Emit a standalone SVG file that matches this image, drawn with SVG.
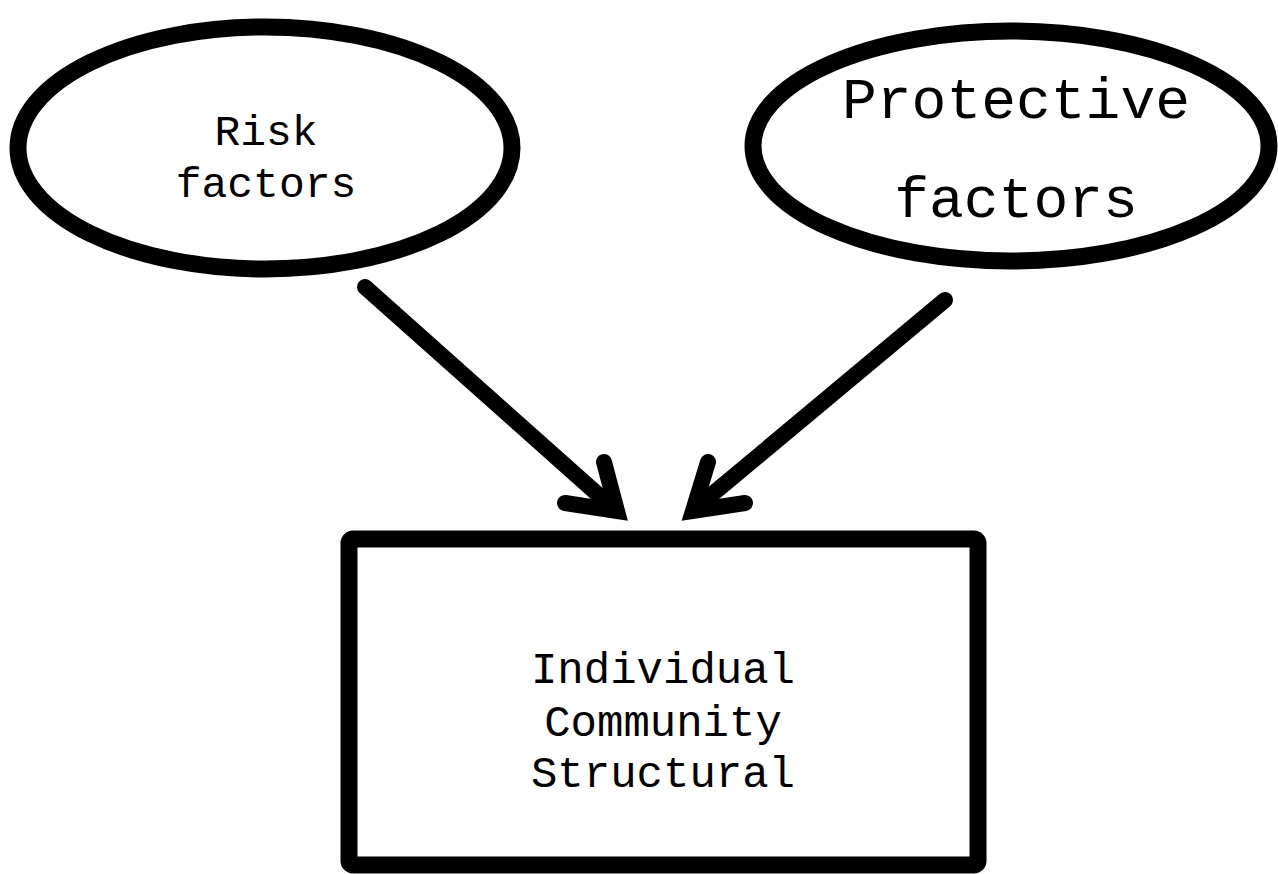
<svg xmlns="http://www.w3.org/2000/svg" width="1278" height="874" viewBox="0 0 1278 874">
<style>
.shape{fill:#fff;stroke:#000;stroke-width:17}
.lbl{font-family:"Liberation Mono","Courier New",monospace;fill:#000;text-anchor:middle}
.conn{fill:none;stroke:#000;stroke-width:16;stroke-linecap:round;stroke-linejoin:miter;stroke-miterlimit:10}
</style>
<rect width="1278" height="874" fill="#fff"/>
<g id="risk">
<ellipse class="shape" cx="265" cy="148" rx="247" ry="121"/>
<text class="lbl" x="266" y="145" font-size="43">Risk</text>
<text class="lbl" x="266" y="197" font-size="43">factors</text>
</g>
<g id="protective">
<ellipse class="shape" cx="1011" cy="146" rx="258" ry="115"/>
<text class="lbl" x="1016" y="118" font-size="58">Protective</text>
<text class="lbl" x="1016" y="217" font-size="58">factors</text>
</g>
<g id="levels">
<rect class="shape" x="349" y="539" width="629" height="326" rx="4"/>
<text class="lbl" x="663" y="683" font-size="44">Individual</text>
<text class="lbl" x="663" y="736" font-size="44">Community</text>
<text class="lbl" x="663" y="787" font-size="44">Structural</text>
</g>
<g id="connectors">
<line class="conn" x1="365" y1="287" x2="612" y2="507"/>
<polyline class="conn" points="604,462 617,511 565,503"/>
<line class="conn" x1="945" y1="300" x2="697" y2="507"/>
<polyline class="conn" points="708,462 693,511 745,503"/>
</g>
</svg>
